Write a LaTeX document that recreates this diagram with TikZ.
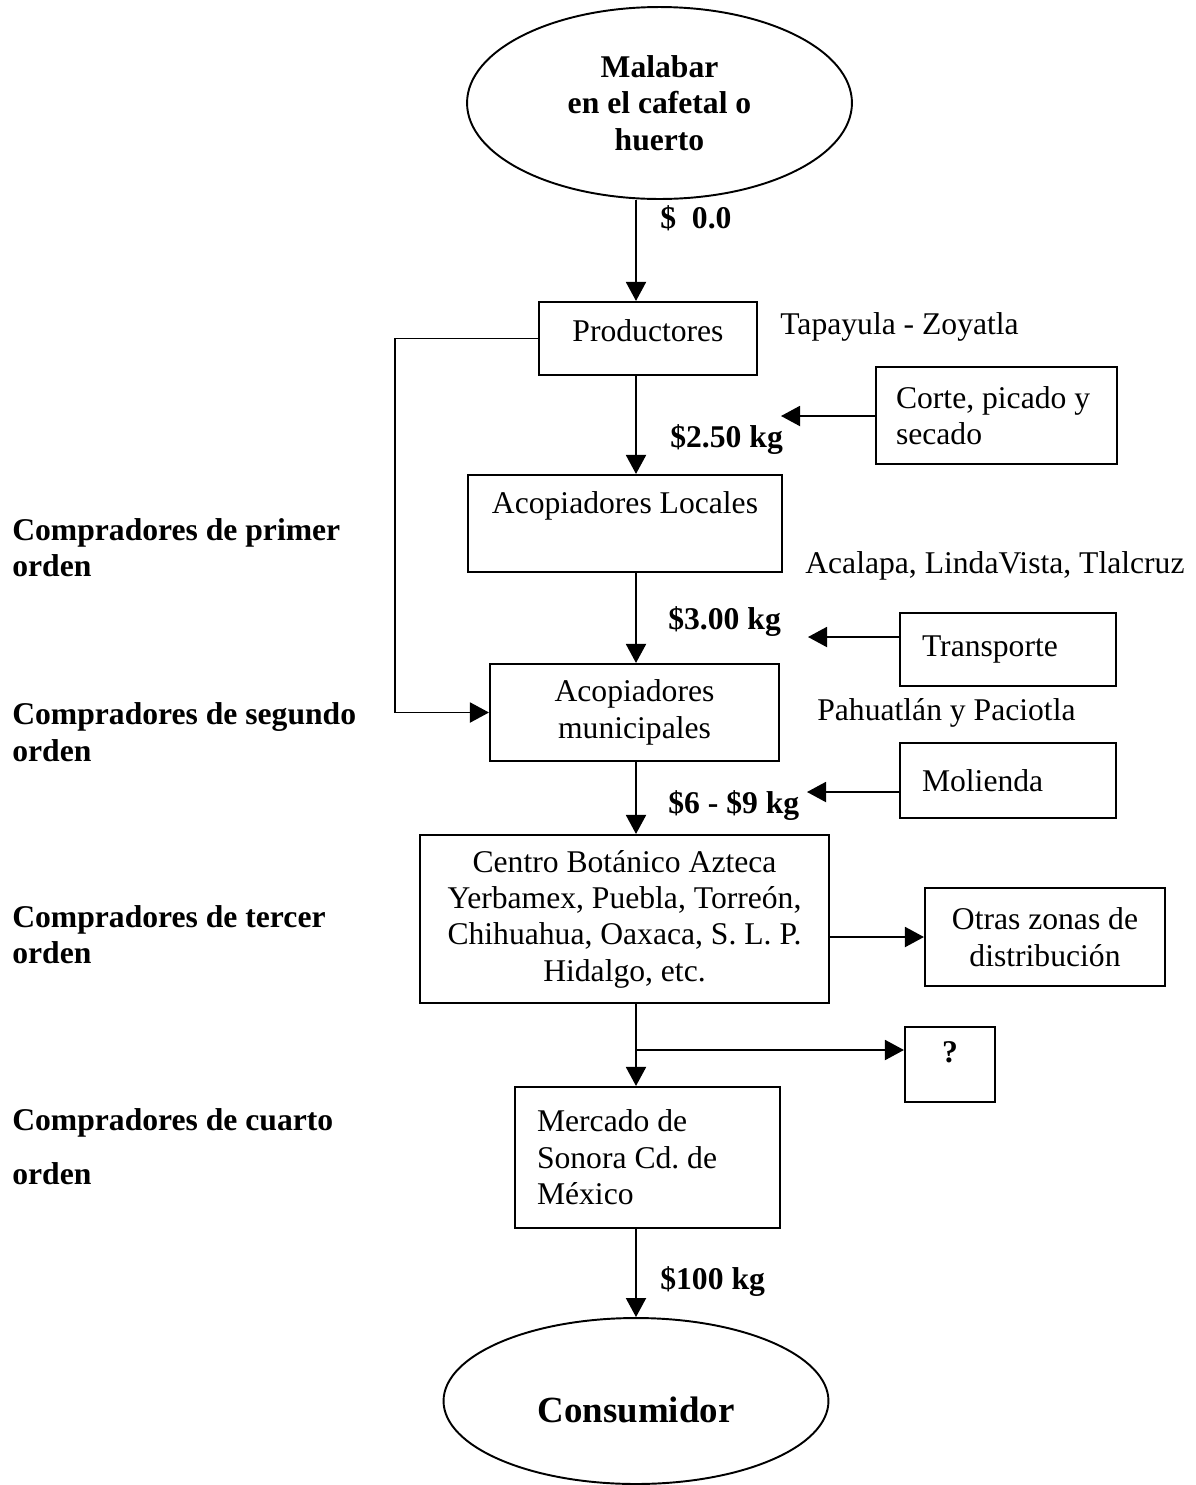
\documentclass[tikz,border=0pt]{standalone}
\usepackage{fontspec}
\setmainfont{Liberation Serif}
\usetikzlibrary{arrows.meta,shapes.geometric}
\frenchspacing
\newcommand{\letra}{\fontsize{18}{20.7}\selectfont}
\tikzset{
  caja/.style={draw,line width=1.2pt,inner sep=0pt},
  izq/.style={caja,align=flush left,inner xsep=0.44cm},
  elip/.style={draw,ellipse,line width=1.1pt,inner sep=0pt,align=center},
  flecha/.style={line width=1.1pt,-{Triangle[length=0.38cm,width=0.4cm]}},
  precio/.style={anchor=west,inner sep=0pt,font=\letra\bfseries},
  lugar/.style={anchor=west,inner sep=0pt},
  orden/.style={anchor=west,inner sep=0pt,align=left,font=\letra\bfseries}
}

\begin{document}
\begin{tikzpicture}[x=0.02cm,y=-0.02cm,font=\letra]
  \useasboundingbox (0,0) rectangle (1196,1485);
  \coordinate (eje) at (636,0);
  \node[elip,font=\letra\bfseries,minimum width=7.7cm,minimum height=3.84cm] (malabar) at (659.5,103) {Malabar\\en el cafetal o\\huerto};
  \node[caja,minimum width=4.36cm,minimum height=1.46cm,text depth=0.3cm] (prod) at (648,338.5) {Productores};
  \node[caja,minimum width=6.28cm,minimum height=1.94cm,text depth=0.85cm] (locales) at (625,523.5) {Acopiadores Locales};
  \node[caja,align=center,minimum width=5.78cm,minimum height=1.94cm] (municip) at (634.5,712.5) {Acopiadores\\municipales};
  \node[caja,align=center,minimum width=8.18cm,minimum height=3.36cm] (centro) at (624.5,919) {Centro Botánico Azteca\\Yerbamex, Puebla, Torreón,\\Chihuahua, Oaxaca, S. L. P.\\Hidalgo, etc.};
  \node[izq,text width=4.42cm,minimum height=2.82cm] (mercado) at (647.5,1157.5) {Mercado de\\Sonora Cd. de\\México};
  \node[elip,font=\fontsize{21}{24}\selectfont\bfseries,minimum width=7.7cm,minimum height=3.32cm,text height=0.86cm] (consum) at (636,1401) {Consumidor};

  \node[izq,inner xsep=0.4cm,text width=4.02cm,minimum height=1.94cm] (corte) at (996.5,415.5) {Corte, picado y\\secado};
  \node[izq,text width=3.44cm,minimum height=1.46cm] (transp) at (1008,649.5) {Transporte};
  \node[izq,text width=3.44cm,minimum height=1.5cm] (molienda) at (1008,780.5) {Molienda};
  \node[caja,align=center,minimum width=4.8cm,minimum height=1.96cm] (otras) at (1045,937) {Otras zonas de\\distribución};
  \node[caja,font=\letra\bfseries,minimum width=1.8cm,minimum height=1.5cm,text depth=0.5cm] (quest) at (950,1064.5) {?};

  \draw[flecha] (malabar.south -| eje) -- (prod.north -| eje);
  \draw[flecha] (prod.south -| eje) -- (locales.north -| eje);
  \draw[flecha] (locales.south -| eje) -- (municip.north -| eje);
  \draw[flecha] (municip.south -| eje) -- (centro.north -| eje);
  \draw[flecha] (centro.south -| eje) -- (mercado.north -| eje);
  \draw[flecha] (mercado.south -| eje) -- (consum.north -| eje);
  \draw[flecha] (prod.west) -- ++(-143,0) |- (municip.west);
  \coordinate (rama) at (636,1050);
  \draw[flecha] (rama) -- (rama -| quest.west);
  \draw[flecha] (centro.east |- otras.west) -- (otras.west);
  \coordinate (p250) at (781,416);
  \draw[flecha] (corte.west |- p250) -- (p250);
  \coordinate (p300) at (808,637);
  \draw[flecha] (transp.west |- p300) -- (p300);
  \coordinate (p69) at (807,792);
  \draw[flecha] (molienda.west |- p69) -- (p69);

  \node[precio] (pr0) at (660,218) {\$~~0.0};
  \node[precio] (pr250) at (670,440) {\$2.50 kg};
  \node[precio] (pr300) at (668,622) {\$3.00 kg};
  \node[precio] (pr69) at (668,806) {\$6 - \$9 kg};
  \node[precio] (pr100) at (660,1282) {\$100 kg};
  \node[lugar] (tapayula) at (780,327) {Tapayula - Zoyatla};
  \node[lugar] (acalapa) at (805,566) {Acalapa, LindaVista, Tlalcruz};
  \node[lugar] (pahuatlan) at (817,713) {Pahuatlán y Paciotla};

  \node[orden] (orden1) at (12,547.5) {Compradores de primer\\orden};
  \node[orden] (orden2) at (12,732) {Compradores de segundo\\orden};
  \node[orden] (orden3) at (12,934.5) {Compradores de tercer\\orden};
  \node[orden] (orden4) at (12,1146.5) {Compradores de cuarto\\[0.34cm]orden};
\end{tikzpicture}
\end{document}
